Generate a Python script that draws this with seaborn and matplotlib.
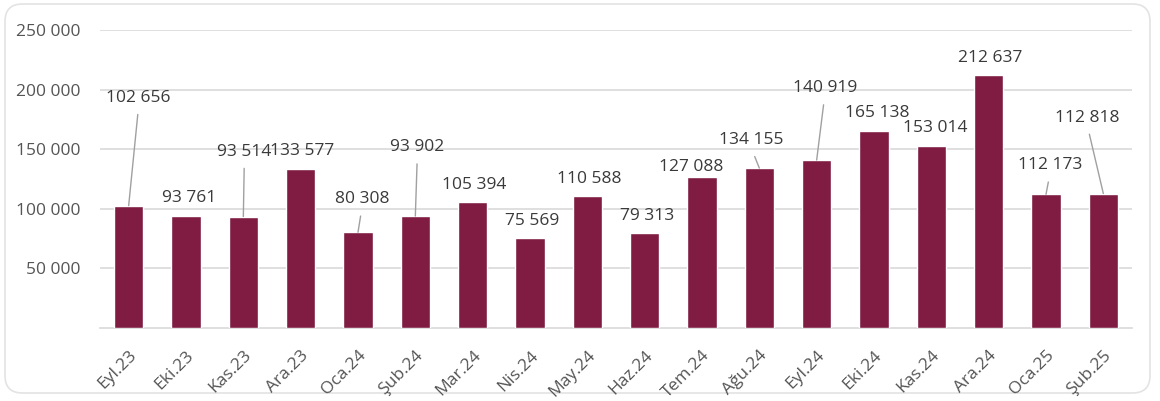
import matplotlib
matplotlib.use('Agg')
import matplotlib.pyplot as plt
import seaborn as sns
import pandas as pd
from matplotlib.patches import FancyBboxPatch

# ---------------------------------------------------------------------------
# Data
# ---------------------------------------------------------------------------
months = ['Eyl.23', 'Eki.23', 'Kas.23', 'Ara.23', 'Oca.24', 'Şub.24',
          'Mar.24', 'Nis.24', 'May.24', 'Haz.24', 'Tem.24', 'Ağu.24',
          'Eyl.24', 'Eki.24', 'Kas.24', 'Ara.24', 'Oca.25', 'Şub.25']
values = [102656, 93761, 93514, 133577, 80308, 93902,
          105394, 75569, 110588, 79313, 127088, 134155,
          140919, 165138, 153014, 212637, 112173, 112818]
y_ticks = [50000, 100000, 150000, 200000, 250000]

# label offsets from bar top (pixels) and whether a leader line is drawn
label_dx = [10, 3, 1, 1, 4, 2, 2, 2, 2, 2, -11, -8, 8, 3, 4, 2, 4, -16]
label_dy = [108, 18, 65, 18, 33, 69, 17, 17, 17, 17, 10, 28, 72, 18, 18, 17, 29, 76]
leader = [True, False, True, False, True, True, False, False, False, False,
          False, True, True, False, False, False, True, True]

BAR = '#801c42'
TXT = '#3a3a3a'
TICK = '#555555'
GRID = '#d9d9d9'


def fmt(v):
    return f'{v:,}'.replace(',', ' ')


sns.set_theme(style='white')
plt.rcParams['font.family'] = ['Open Sans', 'DejaVu Sans']

df = pd.DataFrame({'month': months, 'value': values})

fig = plt.figure(figsize=(11.6, 4.01), dpi=100)
fig.patch.set_facecolor('white')
card = FancyBboxPatch((5 / 1160, 8 / 401), 1145 / 1160, 389 / 401,
                      boxstyle='round,pad=0,rounding_size=0.015',
                      transform=fig.transFigure, facecolor='white',
                      edgecolor='#e3e3e3', lw=1.2, mutation_aspect=1160 / 401,
                      zorder=-5)
fig.patches.append(card)

ax = fig.add_axes([100 / 1160, 1 - 328 / 401, 1032 / 1160, 298 / 401])
ax.set_facecolor('none')
ax.set_zorder(2)

sns.barplot(data=df, x='month', y='value', color=BAR, width=0.51,
            saturation=1, ax=ax, zorder=3)

ax.set_ylim(0, 250000)
ax.set_xlim(-0.5, len(months) - 0.5)
ax.set_yticks(y_ticks)
ax.set_yticklabels([fmt(t) for t in y_ticks])
ax.yaxis.grid(True, color=GRID, lw=1.2)
ax.set_axisbelow(True)
for side in ['left', 'right', 'top']:
    ax.spines[side].set_visible(False)
ax.spines['bottom'].set_color(GRID)
ax.spines['bottom'].set_linewidth(1.2)
ax.set_xlabel('')
ax.set_ylabel('')
ax.tick_params(axis='y', length=0, pad=14, labelsize=12.5, labelcolor=TICK)
ax.tick_params(axis='x', length=0, pad=14, labelsize=12.5, labelcolor=TICK)
for lab in ax.get_xticklabels():
    lab.set_rotation(45)
    lab.set_ha('right')
    lab.set_va('top')
    lab.set_rotation_mode('anchor')

for i, v in enumerate(values):
    props = None
    if leader[i]:
        props = dict(arrowstyle='-', color='#a0a0a0', lw=1,
                     shrinkA=4, shrinkB=0, relpos=(0.5, 0))
    ax.annotate(fmt(v), xy=(i, v), xytext=(label_dx[i], label_dy[i]),
                textcoords='offset pixels', ha='center', va='center',
                fontsize=12.5, color=TXT, arrowprops=props, zorder=5)

fig.savefig('out.png', dpi=100, facecolor='white')
